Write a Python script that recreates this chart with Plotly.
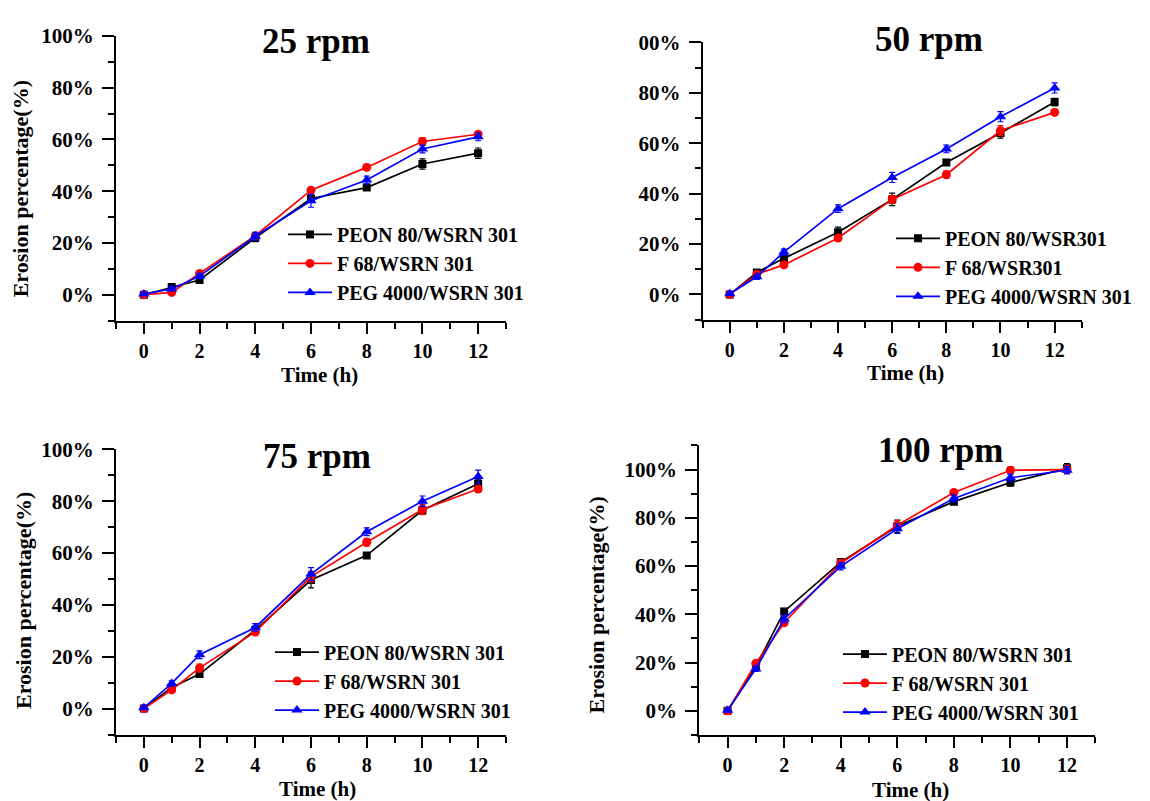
import plotly.graph_objects as go

# ---------------- data ----------------
time_h = [0, 1, 2, 4, 6, 8, 10, 12]
x_tick_vals = [0, 2, 4, 6, 8, 10, 12]
x_tick_text = ["0", "2", "4", "6", "8", "10", "12"]
y_tick_vals = [0, 20, 40, 60, 80, 100]
y_tick_text = ["0%", "20%", "40%", "60%", "80%", "100%"]
y_tick_text_50 = ["0%", "20%", "40%", "60%", "80%", "00%"]

panel_titles = ["25 rpm", "50 rpm", "75 rpm", "100 rpm"]
names_std = ["PEON 80/WSRN 301", "F 68/WSRN 301", "PEG 4000/WSRN 301"]
names_50 = ["PEON 80/WSR301", "F 68/WSR301", "PEG 4000/WSRN 301"]
x_title = "Time (h)"
y_title = "Erosion percentage(%)"

# 25 rpm
peon_25 = [0.0, 3.0, 5.7, 22.0, 37.2, 41.4, 50.5, 54.7]
f68_25 = [0.0, 0.9, 8.2, 22.8, 40.4, 49.2, 59.2, 62.0]
peg_25 = [0.3, 2.2, 7.2, 22.6, 36.3, 44.3, 56.3, 61.0]
peon_25_err = [0.5, 1.0, 1.0, 1.5, 1.5, 1.0, 2.0, 2.0]
f68_25_err = [0.5, 0.5, 1.0, 1.0, 1.0, 1.2, 1.5, 1.0]
peg_25_err = [0.5, 0.5, 1.0, 1.5, 2.5, 1.5, 1.5, 1.5]

# 50 rpm
peon_50 = [0.0, 8.7, 14.3, 24.7, 37.7, 52.3, 64.0, 76.3]
f68_50 = [0.0, 8.0, 11.7, 22.4, 37.7, 47.5, 65.0, 72.2]
peg_50 = [0.3, 7.0, 16.8, 34.0, 46.4, 57.7, 70.5, 81.9]
peon_50_err = [0.5, 1.0, 1.0, 2.0, 2.5, 1.0, 2.0, 1.5]
f68_50_err = [0.5, 1.0, 1.0, 1.0, 1.5, 1.5, 2.0, 1.2]
peg_50_err = [0.5, 1.0, 1.2, 1.5, 2.0, 1.5, 2.0, 2.0]

# 75 rpm
peon_75 = [0.0, 8.1, 13.3, 30.3, 49.6, 59.1, 76.5, 86.7]
f68_75 = [0.0, 7.2, 15.7, 29.6, 50.9, 64.2, 76.8, 84.7]
peg_75 = [0.3, 9.7, 20.8, 31.3, 51.9, 68.2, 80.0, 89.5]
peon_75_err = [0.5, 1.0, 1.0, 1.5, 3.0, 1.0, 1.5, 1.5]
f68_75_err = [0.5, 1.0, 1.5, 1.5, 2.0, 1.5, 2.0, 1.0]
peg_75_err = [0.5, 1.0, 1.5, 1.5, 2.5, 1.5, 2.0, 2.5]

# 100 rpm
peon_100 = [0.0, 18.4, 41.2, 61.6, 76.5, 86.7, 94.6, 100.5]
f68_100 = [0.0, 19.7, 36.5, 61.2, 76.9, 90.5, 99.7, 100.0]
peg_100 = [0.3, 17.4, 38.1, 59.9, 75.5, 88.0, 96.6, 99.7]
peon_100_err = [0.5, 1.0, 1.0, 1.5, 2.5, 1.0, 1.5, 2.0]
f68_100_err = [0.5, 1.0, 1.0, 1.5, 2.0, 1.0, 1.5, 1.5]
peg_100_err = [0.5, 1.0, 1.5, 1.5, 2.0, 1.5, 1.5, 1.5]

# ---------------- styling ----------------
W, H = 1150, 801
FONT = "Liberation Serif, Times New Roman, serif"
colors = ["#000000", "#ff0000", "#0000ff"]
symbols = ["square", "circle", "triangle-up"]
msizes = [8, 9, 10]


def px(x):
    return x / W


def py(y):
    return 1 - y / H


panels = [
    dict(series=[peon_25, f68_25, peg_25], errs=[peon_25_err, f68_25_err, peg_25_err],
         names=names_std, yt=y_tick_text, yr=[-10, 100],
         xd=[116, 506], yd=[313.3, 24.3],
         title_xy=(316, 30), xt_xy=(319, 369), yt_xy=(20, 180),
         leg_xy=(283, 206)),
    dict(series=[peon_50, f68_50, peg_50], errs=[peon_50_err, f68_50_err, peg_50_err],
         names=names_50, yt=y_tick_text_50, yr=[-10, 100],
         xd=[702.7, 1081.7], yd=[312.3, 30.8],
         title_xy=(929, 28), xt_xy=(905, 366), yt_xy=None,
         leg_xy=(891, 210)),
    dict(series=[peon_75, f68_75, peg_75], errs=[peon_75_err, f68_75_err, peg_75_err],
         names=names_std, yt=y_tick_text, yr=[-10, 100],
         xd=[116, 506], yd=[733.5, 444],
         title_xy=(316.6, 451), xt_xy=(317, 789), yt_xy=(23, 598),
         leg_xy=(270, 630)),
    dict(series=[peon_100, f68_100, peg_100], errs=[peon_100_err, f68_100_err, peg_100_err],
         names=names_std, yt=y_tick_text, yr=[-10, 110],
         xd=[699.3, 1095.3], yd=[734, 440],
         title_xy=(940, 445), xt_xy=(910.6, 790), yt_xy=(596.5, 602),
         leg_xy=(838, 632)),
]

fig = go.Figure()
layout = dict(width=W, height=H, margin=dict(l=0, r=0, t=0, b=0),
              paper_bgcolor="white", plot_bgcolor="white",
              font=dict(family=FONT, color="black", weight=700),
              annotations=[])

for i, p in enumerate(panels):
    k = "" if i == 0 else str(i + 1)
    leg = "legend" if i == 0 else "legend" + str(i + 1)
    for j in range(3):
        fig.add_trace(go.Scatter(
            x=time_h, y=p["series"][j], name=p["names"][j],
            mode="lines+markers", xaxis="x" + k, yaxis="y" + k, legend=leg,
            line=dict(color=colors[j], width=1.7),
            marker=dict(symbol=symbols[j], size=msizes[j], color=colors[j]),
            error_y=dict(type="data", array=p["errs"][j], visible=True,
                         color=colors[j], thickness=1.2, width=3),
        ))
    layout["xaxis" + k] = dict(
        domain=[px(p["xd"][0]), px(p["xd"][1])], anchor="y" + k,
        range=[-1, 13], tickmode="array", tickvals=x_tick_vals, ticktext=x_tick_text,
        ticks="outside", ticklen=11, tickwidth=2, tickcolor="black",
        minor=dict(tickmode="linear", tick0=-1, dtick=2, ticks="outside",
                   ticklen=6, tickwidth=2, tickcolor="black"),
        showline=True, linewidth=2, linecolor="black", showgrid=False, zeroline=False,
        tickfont=dict(family=FONT, size=20, weight=700, color="black"),
        fixedrange=True,
    )
    layout["yaxis" + k] = dict(
        domain=[py(p["yd"][0]), py(p["yd"][1])], anchor="x" + k,
        range=p["yr"], tickmode="array", tickvals=y_tick_vals, ticktext=p["yt"],
        ticks="outside", ticklen=12, tickwidth=2, tickcolor="black",
        minor=dict(tickmode="linear", tick0=-10, dtick=20, ticks="outside",
                   ticklen=6, tickwidth=2, tickcolor="black"),
        showline=True, linewidth=2, linecolor="black", showgrid=False, zeroline=False,
        tickfont=dict(family=FONT, size=21, weight=700, color="black"),
        ticklabelstandoff=4, fixedrange=True,
    )
    layout[leg] = dict(
        x=px(p["leg_xy"][0]), y=py(p["leg_xy"][1]), xanchor="left", yanchor="top",
        bgcolor="rgba(0,0,0,0)", borderwidth=0, itemwidth=44, tracegroupgap=0,
        font=dict(family=FONT, size=20, weight=700, color="black"),
    )
    layout["annotations"].append(dict(
        text=panel_titles[i], x=px(p["title_xy"][0]), y=py(p["title_xy"][1]),
        xref="paper", yref="paper", xanchor="center", yanchor="middle",
        showarrow=False, font=dict(family=FONT, size=35, weight=700, color="black")))
    layout["annotations"].append(dict(
        text=x_title, x=px(p["xt_xy"][0]), y=py(p["xt_xy"][1]),
        xref="paper", yref="paper", xanchor="center", yanchor="middle",
        showarrow=False, font=dict(family=FONT, size=21, weight=700, color="black")))
    if p["yt_xy"] is not None:
        layout["annotations"].append(dict(
            text=y_title, x=px(p["yt_xy"][0]), y=py(p["yt_xy"][1]),
            xref="paper", yref="paper", xanchor="center", yanchor="middle",
            textangle=-90, showarrow=False,
            font=dict(family=FONT, size=22, weight=700, color="black")))

fig.update_layout(**layout)
fig.write_html("out.html")
